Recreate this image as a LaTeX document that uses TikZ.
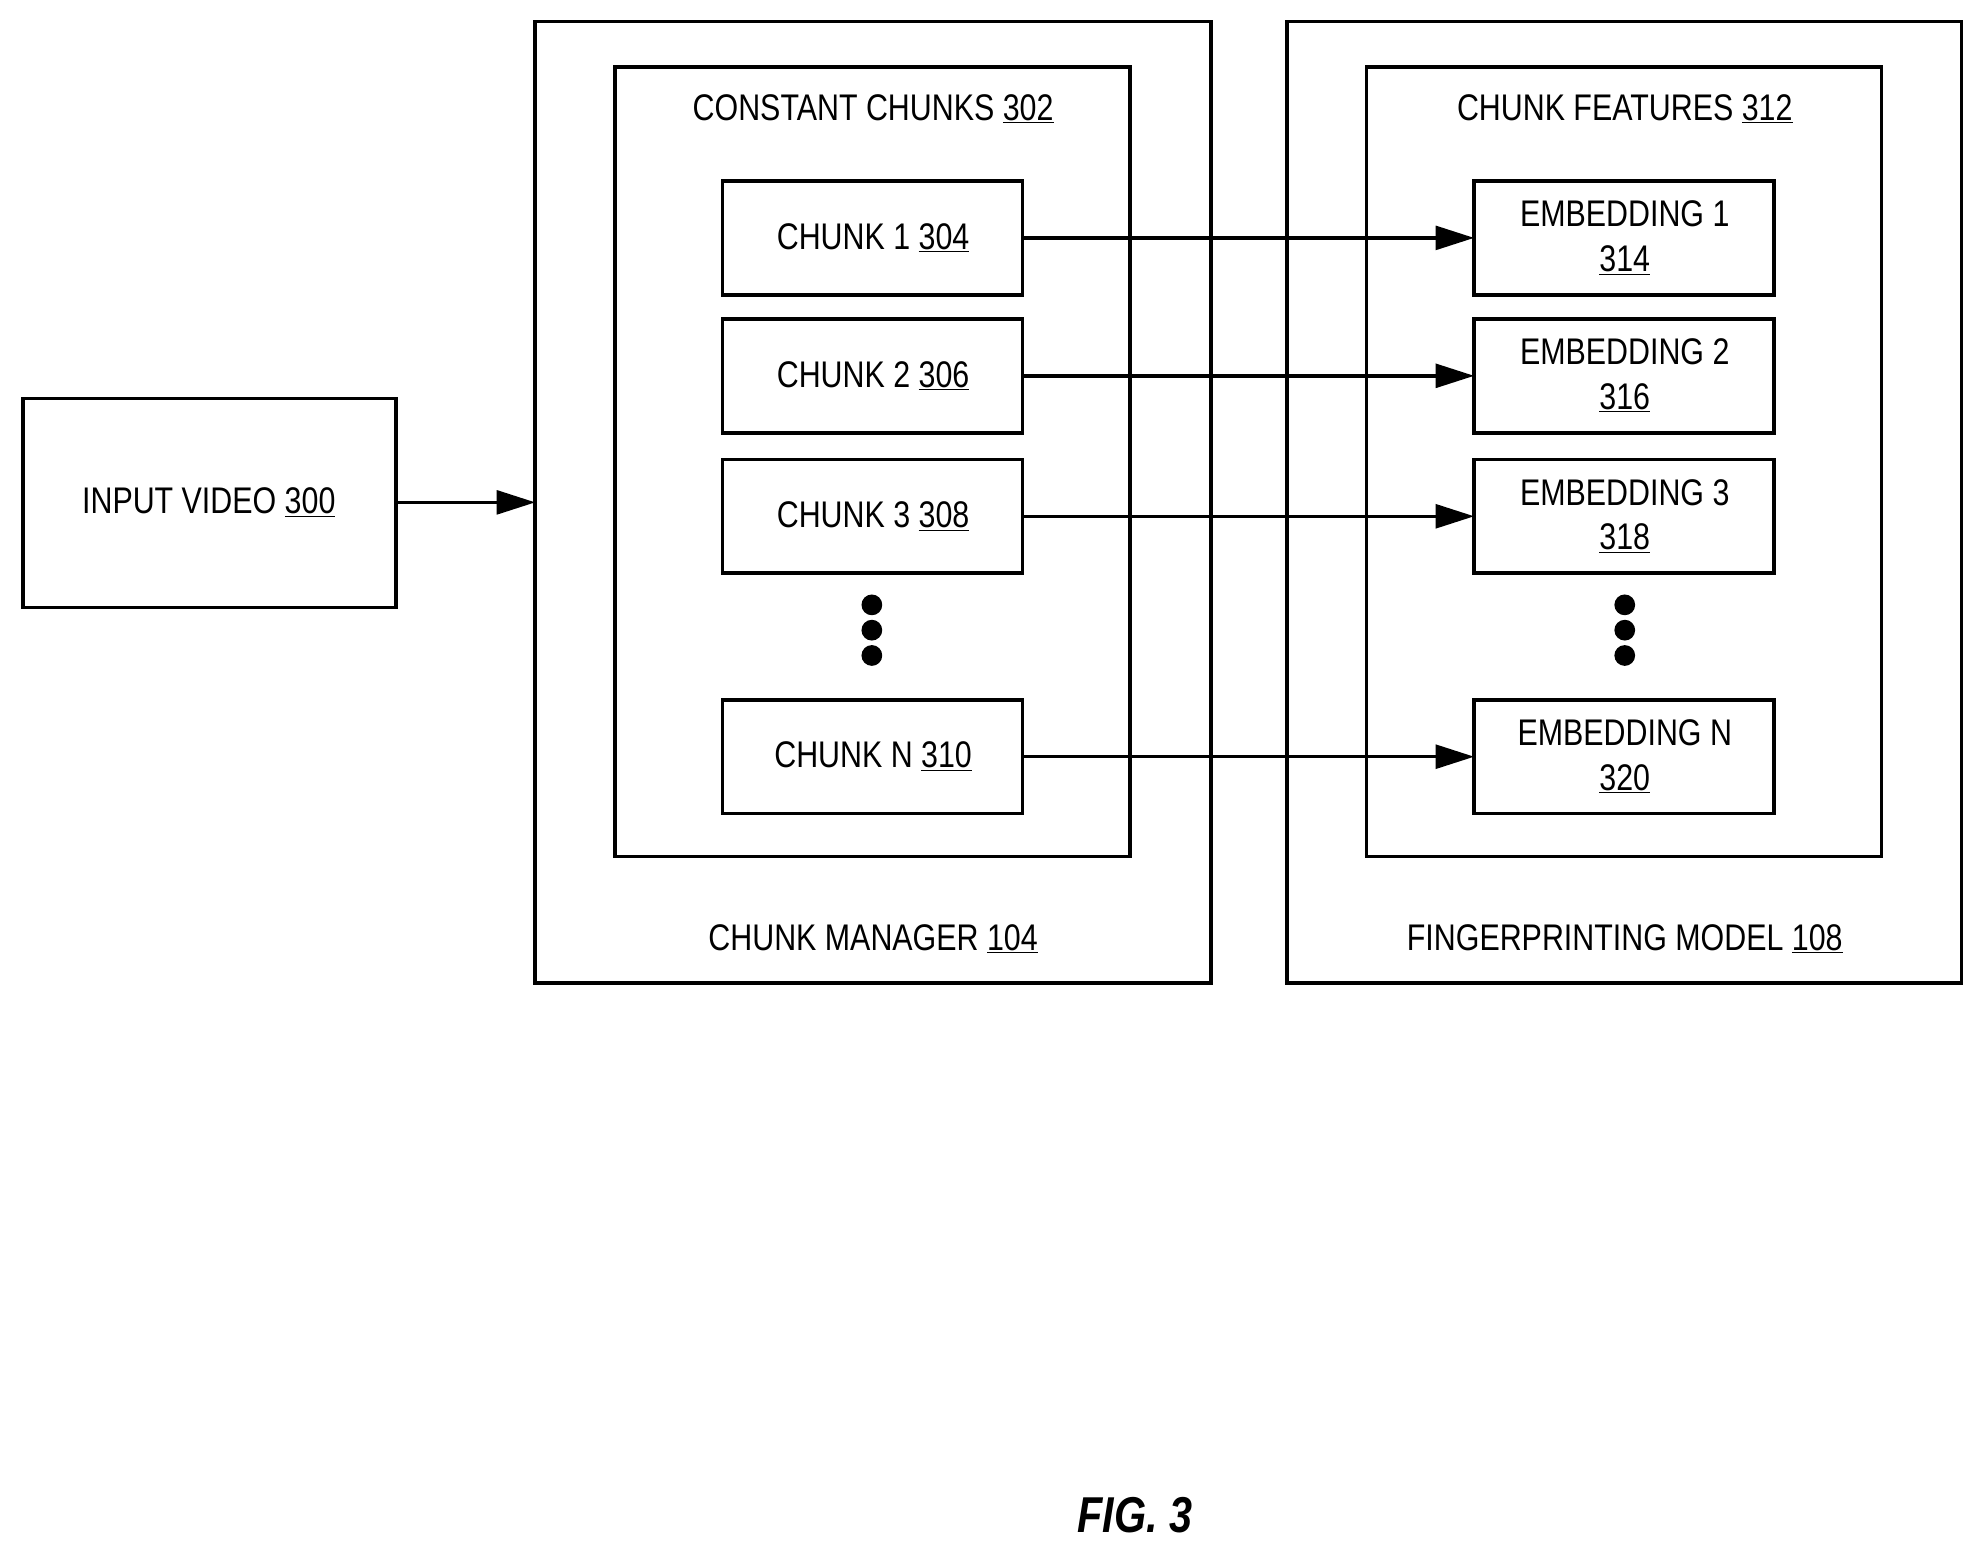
\documentclass[tikz,border=0pt]{standalone}
\usepackage{fontspec}
\setmainfont{Liberation Sans}[FakeStretch=0.82]
\usetikzlibrary{arrows.meta}
\begin{document}
\begin{tikzpicture}[x=0.03cm,y=-0.03cm,
  box/.style={draw,line width=2.4pt},
  lbl/.style={font=\fontsize{25}{30}\selectfont,align=center,inner sep=0},
  arr/.style={line width=2.4pt,-{Triangle[length=26pt,width=16pt]}},
  dot/.style={circle,fill,inner sep=0,minimum size=14pt}]
\useasboundingbox (0,0) rectangle (1560,1223);
\draw[box] (18,315) rectangle (313,480);
\node[lbl] (iv) at (165,397) {INPUT VIDEO \underline{300}};
\coordinate (ive) at (313,397);
\draw[box] (423,17) rectangle (957,777);
\coordinate (cmw) at (423,397);
\draw[box] (486,53) rectangle (893,677);
\node[lbl] (cc) at (690,86) {CONSTANT CHUNKS \underline{302}};
\node[lbl] (cm) at (690,742) {CHUNK MANAGER \underline{104}};
\draw[box] (1017,17) rectangle (1550,777);
\draw[box] (1080,53) rectangle (1487,677);
\node[lbl] (cf) at (1284,86) {CHUNK FEATURES \underline{312}};
\node[lbl] (fm) at (1284,742) {FINGERPRINTING MODEL \underline{108}};
\foreach \i/\a/\b/\t/\n/\e in {1/143/233/1/304/314,2/252/342/2/306/316,3/363/453/3/308/318,4/553/643/N/310/320}{
  \draw[box] (571,\a) rectangle (808,\b);
  \draw[box] (1165,\a) rectangle (1402,\b);
  \node[lbl] (c\i) at (690,{(\a+\b)/2}) {CHUNK \t\ \underline{\n}};
  \node[lbl] (e\i) at (1284,{(\a+\b)/2}) {EMBEDDING \t\\\underline{\e}};
  \coordinate (ce\i) at (808,{(\a+\b)/2});
  \coordinate (ew\i) at (1165,{(\a+\b)/2});
  \draw[arr] (ce\i) -- (ew\i);
}
\draw[arr] (ive) -- (cmw);
\foreach \y in {478,498,518}{\node[dot] at (689,\y) {}; \node[dot] at (1284,\y) {};}
\node[lbl,font=\fontsize{34}{40}\selectfont\bfseries\itshape] (fig) at (897,1197) {FIG. 3};
\end{tikzpicture}
\end{document}
